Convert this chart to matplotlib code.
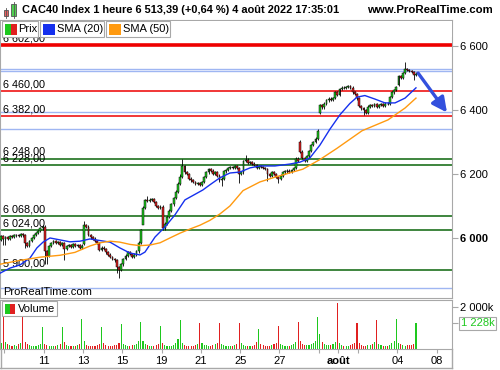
import numpy as np
import matplotlib.pyplot as plt
from matplotlib.patches import Rectangle

plt.rcParams['font.family'] = ['Liberation Sans', 'DejaVu Sans']

# hourly CAC40 bars, 9 bars per session; first two bars = end of 6 July
first_open = 5995
closes = [
    6005, 5998,
    6002, 5998, 6005, 6003, 6008, 6010, 6006, 6012, 6008,   # 07/07
    5985, 5975, 5990, 6000, 6010, 6015, 6022, 6030, 6035,   # 08/07
    5960, 5945, 5975, 5985, 5990, 5985, 5988, 5978, 5985,   # 11/07
    5965, 5975, 5978, 5972, 5980, 5975, 5978, 5970, 5976,   # 12/07
    6040, 6035, 6010, 6002, 5998, 5990, 5985, 5962, 5970,   # 13/07
    5965, 5955, 5948, 5940, 5935, 5930, 5908, 5900, 5918,   # 14/07
    5935, 5945, 5955, 5950, 5942, 5948, 5958, 5984, 6025,   # 15/07
    6095, 6118, 6115, 6120, 6122, 6112, 6100, 6095, 6098,   # 18/07
    6030, 6045, 6065, 6085, 6105, 6125, 6145, 6170, 6190,   # 19/07
    6225, 6205, 6200, 6185, 6180, 6175, 6168, 6172, 6165,   # 20/07
    6175, 6190, 6205, 6215, 6210, 6200, 6205, 6195, 6180,   # 21/07
    6185, 6208, 6212, 6218, 6222, 6220, 6225, 6218, 6200,   # 22/07
    6205, 6240, 6245, 6235, 6238, 6232, 6228, 6218, 6224,   # 25/07
    6222, 6218, 6215, 6200, 6195, 6205, 6200, 6190, 6185,   # 26/07
    6195, 6205, 6208, 6210, 6206, 6212, 6218, 6248, 6242,   # 27/07
    6270, 6250, 6242, 6255, 6272, 6290, 6300, 6310, 6335,   # 28/07
    6415, 6408, 6420, 6430, 6435, 6432, 6438, 6455, 6448,   # 29/07
    6465, 6470, 6468, 6472, 6475, 6470, 6455, 6450, 6436,   # 01/08
    6412, 6405, 6400, 6392, 6410, 6415, 6412, 6418, 6410,   # 02/08
    6415, 6418, 6412, 6420, 6418, 6440, 6455, 6462, 6472,   # 03/08
    6505, 6500, 6515, 6528, 6525, 6522, 6518, 6510, 6513.39,  # 04/08
]
# session opens that gap away from the previous close
gap_opens = {38: 5982, 65: 6040, 137: 6300, 146: 6392, 182: 6478}
# long wicks
wick_highs = {38: 6053, 63: 5990, 67: 6130, 82: 6200, 83: 6247, 112: 6260,
              137: 6306, 185: 6550}
wick_lows = {1: 5978, 2: 5978, 11: 5968, 20: 5920, 21: 5918, 29: 5931, 53: 5890,
             54: 5875, 65: 6055, 101: 6162, 109: 6172, 122: 6178, 127: 6172,
             146: 6388, 166: 6384, 189: 6495}

volumes = [
    300, 1540,
    340, 250, 200, 160, 190, 150, 230, 280, 1540,
    310, 220, 170, 140, 160, 150, 200, 250, 1062,
    260, 200, 160, 130, 150, 140, 180, 230, 1062,
    330, 180, 150, 140, 150, 160, 200, 240, 1428,
    390, 210, 160, 140, 130, 150, 180, 260, 1062,
    280, 190, 150, 140, 160, 170, 210, 300, 1206,
    240, 170, 160, 150, 170, 180, 260, 380, 1300,
    400, 220, 170, 140, 130, 150, 170, 260, 1110,
    300, 200, 150, 140, 160, 200, 280, 460, 1381,
    280, 190, 160, 140, 150, 160, 200, 250, 1254,
    270, 210, 170, 150, 160, 190, 240, 280, 1254,
    250, 190, 150, 140, 150, 160, 200, 260, 1254,
    280, 200, 150, 130, 140, 150, 180, 320, 968,
    260, 180, 150, 140, 150, 170, 220, 300, 1110,
    240, 170, 150, 140, 160, 170, 260, 330, 1300,
    400, 260, 200, 180, 190, 230, 290, 370, 1540,
    710, 330, 220, 180, 190, 200, 250, 350, 2175,
    300, 200, 160, 140, 150, 170, 220, 300, 1254,
    280, 190, 160, 150, 170, 180, 230, 330, 1397,
    260, 190, 160, 150, 160, 200, 280, 380, 1445,
    300, 220, 180, 160, 170, 180, 200, 260, 1228,
]

# moving averages (bar position, value)
sma20_pos = [-0.5, 4.1, 8.7, 13.2, 16.4, 19.2, 22.4, 27.0, 31.5, 36.1, 40.7, 45.3, 49.9,
             54.4, 59.0, 63.6, 65.9, 70.5, 75.0, 79.6, 84.2, 92.4, 95.6, 100.2, 104.8,
             109.4, 114.0, 118.5, 125.4, 132.3, 136.9, 141.4, 146.0, 150.6, 155.2, 159.7,
             163.0, 166.6, 171.2, 175.8, 180.4, 185.0, 190.0]
sma20_val = [5890, 5906, 5916, 5937, 5969, 5987, 6000, 5994, 5988, 5990, 5997, 5992, 5987,
             5969, 5953, 5947, 5956, 6003, 6034, 6072, 6119, 6150, 6166, 6188, 6203,
             6206, 6219, 6225, 6225, 6231, 6237, 6250, 6290, 6340, 6385, 6420,
             6440, 6445, 6434, 6422, 6422, 6437, 6469]
sma50_pos = [-0.5, 8.7, 17.8, 27.0, 33.8, 40.7, 45.3, 49.9, 54.4, 59.0, 63.6, 68.2, 72.8,
             77.3, 81.9, 86.5, 91.1, 95.6, 100.2, 104.8, 110.8, 118.5, 125.4, 138.2,
             146.0, 153.8, 165.3, 177.2, 185.0, 190.0]
sma50_val = [5918, 5930, 5940, 5946, 5955, 5975, 5985, 5990, 5987, 5980, 5976, 5978, 5985,
             6000, 6015, 6028, 6040, 6055, 6075, 6100, 6148, 6175, 6190, 6215,
             6245, 6280, 6335, 6369, 6406, 6437]

# horizontal levels
red_levels = [6602, 6460, 6382]
green_levels = [6248, 6228, 6068, 6024, 5900]
blue_levels = [6527, 6522, 6394, 6340, 5844]
level_labels = ['6 602,00', '6 460,00', '6 382,00', '6 248,00', '6 228,00',
                '6 068,00', '6 024,00', '5 900,00']

sessions = ['07-07', '07-08', '07-11', '07-12', '07-13', '07-14', '07-15', '07-18',
            '07-19', '07-20', '07-21', '07-22', '07-25', '07-26', '07-27', '07-28',
            '07-29', '08-01', '08-02', '08-03', '08-04', '08-05', '08-08']
tick_sessions = ['07-07', '07-11', '07-13', '07-15', '07-19', '07-21', '07-25', '07-27',
                 '07-29', '08-01', '08-02', '08-04', '08-08']
tick_labels = ['', '11', '13', '15', '19', '21', '25', '27', '', 'août', '', '04', '08']
price_ticks = [6000, 6200, 6400, 6600]

GREEN = '#1ec81e'
RED = '#e02020'
GRID = '#a8a8a8'

closes = np.array(closes, dtype=float)
n = len(closes)
x = np.arange(n)
opens = np.concatenate([[first_open], closes[:-1]])
for k, v in gap_opens.items():
    opens[k] = v
highs = np.maximum(opens, closes) + 4
lows = np.minimum(opens, closes) - 4
for k, v in wick_highs.items():
    highs[k] = v
for k, v in wick_lows.items():
    lows[k] = v
up = closes >= opens
colors = np.where(up, GREEN, RED)


def fmt(v):
    return f'{v:,.0f}'.replace(',', ' ')


W, H = 500, 370
fig = plt.figure(figsize=(5, 3.7), dpi=100)


def fx(px):
    return px / W


def fy(py):
    return 1 - py / H


ax = fig.add_axes([0, fy(298), fx(452), fy(20) - fy(298)])
axv = fig.add_axes([0, fy(349), fx(452), fy(300) - fy(349)], sharex=ax)

# levels
for lv in blue_levels:
    ax.axhline(lv, color='#9fb6f2', lw=1.0, zorder=1)
for lv in green_levels:
    ax.axhline(lv, color='#0a640a', lw=1.1, zorder=1)
ax.axhline(red_levels[0], color='#ee0000', lw=2.6, zorder=1)
for lv in red_levels[1:]:
    ax.axhline(lv, color='#ee0000', lw=1.1, zorder=1)
for lv, lab in zip(red_levels + green_levels, level_labels):
    ax.text(1.0, lv + 5, lab, fontsize=7.8, va='bottom', ha='left', zorder=2)

# candles
ax.vlines(x, lows, highs, color='black', lw=0.6, zorder=3)
body = np.maximum(np.abs(closes - opens), 1.5)
ax.bar(x, body, bottom=np.minimum(opens, closes), width=0.85, color=colors,
       edgecolor='black', linewidth=0.35, zorder=4)

# moving averages
ax.plot(sma20_pos, sma20_val, color='#1530ee', lw=1.0, zorder=5)
ax.plot(sma50_pos, sma50_val, color='#ff9a10', lw=1.0, zorder=5)

# arrow
ax.annotate('', xy=(204.2, 6392), xytext=(191, 6515),
            arrowprops=dict(arrowstyle='-|>', color='#3350dd', lw=2.4,
                            mutation_scale=22, shrinkA=0, shrinkB=0), zorder=6)

ax.set_xlim(-0.5, 206.5)
ax.set_ylim(5812.5, 6681)
ax.yaxis.tick_right()
ax.set_yticks(price_ticks)
ax.set_yticklabels([fmt(v) for v in price_ticks], fontsize=8)
for t in ax.get_yticklabels():
    if t.get_text() == '6 000':
        t.set_fontweight('bold')
ax.tick_params(axis='y', length=4, color=GRID, pad=2)
ax.tick_params(axis='x', length=0, labelbottom=False)
for s in ax.spines.values():
    s.set_color(GRID)
ax.text(0.006, 0.005, 'ProRealTime.com', transform=ax.transAxes, fontsize=8,
        va='bottom', ha='left')

# volume panel
axv.bar(x, volumes, width=0.5, color=colors, linewidth=0)
axv.set_ylim(0, 2333)
axv.yaxis.tick_right()
axv.set_yticks([2000, 1228])
axv.set_yticklabels(['2 000k', ''], fontsize=8)
axv.tick_params(axis='y', length=4, color=GRID, pad=2)
for s in axv.spines.values():
    s.set_color(GRID)
pos = [1.5 + 9 * sessions.index(d) for d in tick_sessions]
axv.set_xticks(pos)
axv.set_xticklabels(tick_labels, fontsize=8)
for t in axv.get_xticklabels():
    if t.get_text() == 'août':
        t.set_fontweight('bold')
axv.tick_params(axis='x', length=3, color=GRID, pad=2)
axv.text(1.02, 1228, fmt(volumes[-1]) + 'k', transform=axv.get_yaxis_transform(),
         fontsize=8, color=GREEN, va='center', ha='left',
         bbox=dict(boxstyle='square,pad=0.15', fc='white', ec=GRID, lw=0.8))

# frame under the date labels
fig.add_artist(plt.Line2D([0, fx(452)], [fy(368), fy(368)], color=GRID, lw=1))
fig.add_artist(plt.Line2D([fx(452), fx(452)], [fy(349), fy(368)], color=GRID, lw=1))
fig.add_artist(plt.Line2D([0.001, 0.001], [fy(349), fy(368)], color=GRID, lw=1))


def box(x0, y0, x1, y1, fc='white', ec=GRID, lw=0.8):
    fig.add_artist(Rectangle((fx(x0), fy(y1)), fx(x1) - fx(x0), fy(y0) - fy(y1),
                             transform=fig.transFigure, fc=fc, ec=ec, lw=lw))


# price legend band
box(0.5, 20.5, 451.5, 37, ec='none')
box(2, 21, 38, 37)
box(5, 24, 11, 35, fc=GREEN, ec='none')
box(11, 24, 17, 35, fc=RED, ec='none')
fig.text(fx(18), fy(29.5), 'Prix', fontsize=8, va='center')
box(40, 21, 104, 37)
box(43, 24, 55, 35, fc='#1530ee', ec='none')
fig.text(fx(57), fy(29.5), 'SMA (20)', fontsize=8, va='center')
box(106, 21, 170, 37)
box(109, 24, 121, 35, fc='#ff9a10', ec='none')
fig.text(fx(123), fy(29.5), 'SMA (50)', fontsize=8, va='center')

# volume legend
box(2, 301, 57, 316)
box(5, 304, 10, 314, fc=GREEN, ec='none')
box(10, 304, 15, 314, fc=RED, ec='none')
fig.text(fx(18), fy(309), 'Volume', fontsize=8, va='center')

# header
box(4, 10, 8, 16, fc='#e86060', ec='#555555', lw=0.6)
box(11, 4, 16, 16, fc='#50d050', ec='#555555', lw=0.6)
fig.add_artist(plt.Line2D([fx(6), fx(6)], [fy(18), fy(8)], color='#555555', lw=0.6))
fig.add_artist(plt.Line2D([fx(13.5), fx(13.5)], [fy(18), fy(2)], color='#555555', lw=0.6))
fig.text(fx(22), fy(10), 'CAC40 Index 1 heure 6 513,39 (+0,64 %) 4 août 2022 17:35:01',
         fontsize=7.9, fontweight='bold', va='center', ha='left')
fig.text(fx(493), fy(10), 'www.ProRealTime.com', fontsize=8.2, fontweight='bold',
         va='center', ha='right')

fig.savefig('out.png', dpi=100)
